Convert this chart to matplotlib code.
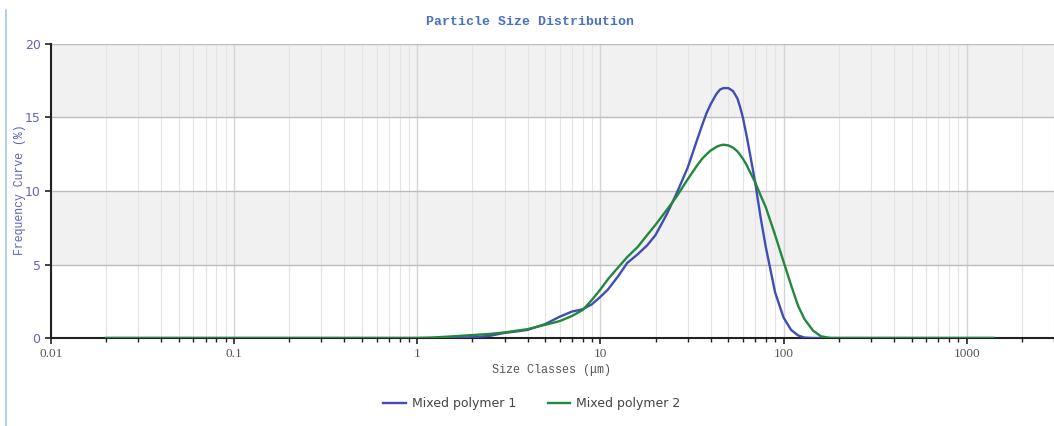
import numpy as np
import matplotlib
matplotlib.use("Agg")
import matplotlib.pyplot as plt
from matplotlib.lines import Line2D
from matplotlib.ticker import LogLocator, FixedLocator, NullFormatter

# size classes (um) and frequency (%)
sizes = [0.02, 1.0, 1.2, 1.5, 2.0, 2.5, 3.0, 3.5, 4.0, 5.0, 6.0, 7.0, 8.0, 9.0,
         10, 11, 12.5, 14, 16, 18, 20, 23, 26, 30, 34, 36, 38, 40, 43, 45, 47, 50,
         53, 56, 58, 60, 63, 65, 70, 75, 80, 90, 100, 110, 120, 130, 145, 160, 180,
         1400]
polymer1 = [0, 0, 0, 0.02, 0.05, 0.15, 0.35, 0.45, 0.55, 0.95, 1.45, 1.8, 1.95, 2.3,
            2.8, 3.3, 4.2, 5.1, 5.7, 6.3, 7.0, 8.4, 9.8, 11.6, 13.6, 14.5, 15.3, 15.9,
            16.6, 16.9, 17.0, 17.0, 16.8, 16.3, 15.7, 15.0, 13.7, 12.8, 10.6, 8.2, 6.2,
            3.1, 1.4, 0.55, 0.18, 0.03, 0, 0, 0, 0]
polymer2 = [0, 0, 0.03, 0.1, 0.2, 0.28, 0.38, 0.5, 0.6, 0.9, 1.15, 1.5, 1.9, 2.6,
            3.3, 4.0, 4.8, 5.5, 6.2, 7.0, 7.7, 8.7, 9.6, 10.8, 11.8, 12.2, 12.5, 12.75,
            13.0, 13.1, 13.15, 13.1, 12.95, 12.7, 12.45, 12.2, 11.75, 11.4, 10.6, 9.7,
            8.9, 7.0, 5.2, 3.6, 2.2, 1.3, 0.5, 0.12, 0.0, 0]
series_names = ["Mixed polymer 1", "Mixed polymer 2"]
series_colors = ["#3f4db5", "#23883a"]
x_ticks = [0.01, 0.1, 1, 10, 100, 1000]
x_labels = ["0.01", "0.1", "1", "10", "100", "1000"]
y_ticks = [0, 5, 10, 15, 20]

fig = plt.figure(figsize=(10.54, 4.26), dpi=100)
ax = fig.add_axes([51 / 1054, 1 - 338 / 426, 1 - 51 / 1054, 294 / 426])

ax.set_xscale("log")
ax.set_xlim(0.01, 3000)
ax.set_ylim(0, 20)

# alternating bands
ax.axhspan(15, 20, color="#f1f1f1", zorder=0, lw=0)
ax.axhspan(5, 10, color="#f1f1f1", zorder=0, lw=0)

ax.xaxis.set_major_locator(FixedLocator(x_ticks))
ax.xaxis.set_minor_locator(LogLocator(base=10, subs=np.arange(2, 10), numticks=20))
ax.xaxis.set_minor_formatter(NullFormatter())
ax.set_xticklabels(x_labels, family="Liberation Serif", fontsize=9.5, color="#555555")
ax.set_yticks(y_ticks)
ax.set_yticklabels([str(v) for v in y_ticks], family="DejaVu Sans", fontsize=9, color="#6262c4")

ax.grid(which="major", axis="x", color="#d4d4d4", lw=1.0, zorder=1)
ax.grid(which="minor", axis="x", color="#e4e4e4", lw=0.8, zorder=1)
ax.grid(which="major", axis="y", color="#bdbdbd", lw=1.0, zorder=1)

ax.tick_params(axis="both", which="major", direction="out", length=4, width=1.2, color="#222222")
ax.tick_params(axis="x", which="minor", direction="out", length=3, width=1.0, color="#222222")

for s in ["top", "right"]:
    ax.spines[s].set_visible(False)
ax.spines["left"].set_color("#222222")
ax.spines["left"].set_linewidth(1.5)
ax.spines["bottom"].set_color("#222222")
ax.spines["bottom"].set_linewidth(1.5)

ax.plot(sizes, polymer1, color=series_colors[0], lw=1.7, label=series_names[0], zorder=3)
ax.plot(sizes, polymer2, color=series_colors[1], lw=1.7, label=series_names[1], zorder=3)

fig.text(0.503, 1 - 22 / 426, "Particle Size Distribution", ha="center", va="center",
         family="Liberation Mono", fontweight="bold", fontsize=9.5, color="#4a70c4")
fig.text(20 / 1054, 1 - 190 / 426, "Frequency Curve (%)", ha="center", va="center",
         rotation=90, family="Liberation Mono", fontsize=8.3, color="#5f5fc0")
fig.text(552 / 1054, 1 - 370 / 426, "Size Classes (\u03bcm)", ha="center", va="center",
         family="Liberation Mono", fontsize=8.5, color="#555555")

fig.legend(loc="center", bbox_to_anchor=(532 / 1054, 1 - 404 / 426), ncol=2, frameon=False,
           prop={"family": "DejaVu Sans", "size": 9}, labelcolor="#444444",
           handlelength=1.8, columnspacing=2.5, handletextpad=0.5)

# thin blue border at left edge of the picture
fig.add_artist(Line2D([6 / 1054, 6 / 1054], [0, 1 - 10 / 426], transform=fig.transFigure,
                      color="#a9c1ea", lw=1.2))

fig.savefig("out.png", dpi=100)
